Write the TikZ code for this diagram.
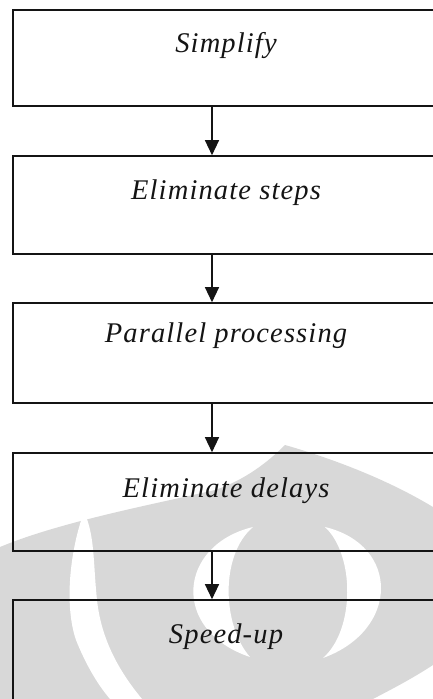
\documentclass[tikz,border=0pt]{standalone}
\usepackage{fontspec}
\setmainfont{Liberation Serif}
\newfontfamily\boxfont{Liberation Serif}[LetterSpace=4]
\usetikzlibrary{arrows.meta}
\definecolor{wmgrey}{RGB}{216,216,216}
\definecolor{ink}{RGB}{20,20,20}
\tikzset{
  stepbox/.style={draw=ink, line width=1.6pt, minimum width=426pt, inner sep=0pt},
  lbl/.style={font=\boxfont\itshape\fontsize{28.5}{32}\selectfont, text=ink, inner sep=0pt, anchor=base},
  arr/.style={draw=ink, line width=1.3pt, -{Triangle[length=15pt,width=14pt]}},
  wm/.style={fill=wmgrey, draw=none},
  wmcut/.style={fill=white, draw=none}
}
\begin{document}
\begin{tikzpicture}[x=1pt,y=-1pt]
\useasboundingbox (0,0) rectangle (433,699);
\clip (0,0) rectangle (433,699);
% watermark
\path[wm] (0,547) .. controls (60,522) and (150,505) .. (215,490)
  .. controls (245,480) and (268,462) .. (285,445)
  .. controls (320,455) and (380,475) .. (433,507)
  -- (433,665) .. controls (410,680) and (390,690) .. (373,699)
  -- (0,699) -- cycle;
\path[wmcut] (84,512) .. controls (70,550) and (64,605) .. (76,640)
  .. controls (86,665) and (98,685) .. (110,699)
  -- (142,699) .. controls (118,670) and (101,638) .. (97,600)
  .. controls (93,562) and (95,535) .. (84,512) -- cycle;
\path[wmcut] (253,527) .. controls (178,545) and (170,630) .. (250,657)
  .. controls (222,625) and (220,555) .. (253,527) -- cycle;
\path[wmcut] (325,527) .. controls (400,545) and (400,630) .. (323,658)
  .. controls (355,630) and (355,555) .. (325,527) -- cycle;
% boxes
\node[stepbox, minimum height=96pt] (b1) at (226,58) {};
\node[stepbox, minimum height=98pt] (b2) at (226,205) {};
\node[stepbox, minimum height=100pt] (b3) at (226,353) {};
\node[stepbox, minimum height=98pt] (b4) at (226,502) {};
\node[stepbox, minimum height=120pt] (b5) at (226,660) {};
% labels
\node[lbl] (t1) at ([yshift=-43pt]b1.north) {Simplify};
\node[lbl] (t2) at ([yshift=-44pt]b2.north) {Eliminate steps};
\node[lbl] (t3) at ([yshift=-40pt]b3.north) {Parallel processing};
\node[lbl] (t4) at ([yshift=-45pt]b4.north) {Eliminate delays};
\node[lbl] (t5) at ([yshift=-44pt]b5.north) {Speed-up};
% arrows
\draw[arr] ([xshift=-14pt]b1.south) -- ([xshift=-14pt]b2.north);
\draw[arr] ([xshift=-14pt]b2.south) -- ([xshift=-14pt]b3.north);
\draw[arr] ([xshift=-14pt]b3.south) -- ([xshift=-14pt]b4.north);
\draw[arr] ([xshift=-14pt]b4.south) -- ([xshift=-14pt]b5.north);
\end{tikzpicture}
\end{document}
